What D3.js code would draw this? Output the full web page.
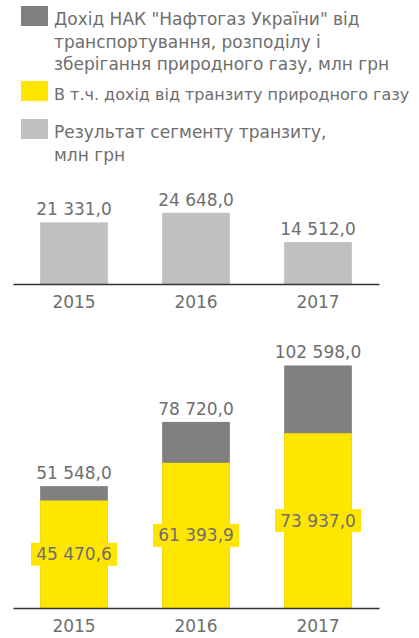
<!DOCTYPE html>
<html>
<head>
<meta charset="utf-8">
<script src="https://cdn.jsdelivr.net/npm/d3@7"></script>
<style>
  body { margin: 0; background: #fff; }
  text { font-family: "DejaVu Sans", sans-serif; fill: #6e6e6e; }
</style>
</head>
<body>
<div id="chart"></div>
<script>
let svgWidth = 419;
let svgHeight = 638;

// data
let years = ["2015", "2016", "2017"];
let transitResult = [21331.0, 24648.0, 14512.0];
let totalIncome = [51548.0, 78720.0, 102598.0];
let transitIncome = [45470.6, 61393.9, 73937.0];

let legendItems = [
  { color: "#808080", size: 17, lines: ["Дохід НАК \"Нафтогаз України\" від", "транспортування, розподілу і", "зберігання природного газу, млн грн"] },
  { color: "#ffe600", size: 16, lines: ["В т.ч. дохід від транзиту природного газу"] },
  { color: "#c0c0c0", size: 17, lines: ["Результат сегменту транзиту,", "млн грн"] }
];
let legendTop = [6, 81, 119];

let fmt = v => d3.format(",.1f")(v).replace(/,/g, " ").replace(".", ",");

let svg = d3.select("#chart")
  .append("svg")
  .attr("width", svgWidth)
  .attr("height", svgHeight);

// legend
legendItems.forEach(function(item, i) {
  let g = svg.append("g").attr("transform", `translate(21, ${legendTop[i]})`);
  g.append("rect")
    .attr("width", 27)
    .attr("height", 20)
    .attr("fill", item.color);
  g.selectAll("text")
    .data(item.lines)
    .enter()
    .append("text")
    .attr("x", 33)
    .attr("y", (d, j) => 19 + j * 22.5)
    .attr("font-size", item.size)
    .text(d => d);
});

let x = d3.scaleBand()
  .domain(years)
  .range([13, 379])
  .paddingInner(0.445)
  .paddingOuter(0.2225);

// top chart: transit segment result
let yTop = d3.scaleLinear()
  .domain([0, 30000])
  .range([284, 284 - 30000 / 346]);

svg.selectAll(".bar-top")
  .data(transitResult)
  .enter()
  .append("rect")
  .attr("class", "bar-top")
  .attr("x", (d, i) => x(years[i]))
  .attr("y", d => yTop(d))
  .attr("width", x.bandwidth())
  .attr("height", d => yTop(0) - yTop(d))
  .attr("fill", "#c0c0c0");

svg.selectAll(".lab-top")
  .data(transitResult)
  .enter()
  .append("text")
  .attr("class", "lab-top")
  .attr("x", (d, i) => x(years[i]) + x.bandwidth() / 2)
  .attr("y", d => yTop(d) - 7)
  .attr("text-anchor", "middle")
  .attr("font-size", 17)
  .text(d => fmt(d));

let topAxis = svg.append("g")
  .attr("transform", `translate(0, ${yTop(0)})`)
  .call(d3.axisBottom(x).tickSize(0).tickPadding(12));
topAxis.select(".domain").attr("stroke", "#333").attr("stroke-width", 1.5);
topAxis.selectAll("text").attr("font-size", 17).attr("font-family", null).style("fill", "#6e6e6e");

// bottom chart: stacked income
let yBot = d3.scaleLinear()
  .domain([0, 110000])
  .range([608, 608 - 110000 / 423]);

svg.selectAll(".bar-total")
  .data(totalIncome)
  .enter()
  .append("rect")
  .attr("class", "bar-total")
  .attr("x", (d, i) => x(years[i]))
  .attr("y", d => yBot(d))
  .attr("width", x.bandwidth())
  .attr("height", d => yBot(0) - yBot(d))
  .attr("fill", "#808080");

svg.selectAll(".bar-transit")
  .data(transitIncome)
  .enter()
  .append("rect")
  .attr("class", "bar-transit")
  .attr("x", (d, i) => x(years[i]))
  .attr("y", d => yBot(d))
  .attr("width", x.bandwidth())
  .attr("height", d => yBot(0) - yBot(d))
  .attr("fill", "#ffe600");

svg.selectAll(".lab-total")
  .data(totalIncome)
  .enter()
  .append("text")
  .attr("class", "lab-total")
  .attr("x", (d, i) => x(years[i]) + x.bandwidth() / 2)
  .attr("y", d => yBot(d) - 7)
  .attr("text-anchor", "middle")
  .attr("font-size", 17)
  .text(d => fmt(d));

// yellow-boxed labels inside transit segment
let inner = svg.selectAll(".lab-transit")
  .data(transitIncome)
  .enter()
  .append("g")
  .attr("class", "lab-transit")
  .attr("transform", (d, i) => `translate(${x(years[i]) + x.bandwidth() / 2}, ${(yBot(d) + yBot(0)) / 2})`);

inner.append("rect")
  .attr("x", -43)
  .attr("y", -11.5)
  .attr("width", 86)
  .attr("height", 23)
  .attr("fill", "#ffe600");

inner.append("text")
  .attr("y", 6)
  .attr("text-anchor", "middle")
  .attr("font-size", 17)
  .text(d => fmt(d));

let botAxis = svg.append("g")
  .attr("transform", `translate(0, ${yBot(0)})`)
  .call(d3.axisBottom(x).tickSize(0).tickPadding(12));
botAxis.select(".domain").attr("stroke", "#333").attr("stroke-width", 1.5);
botAxis.selectAll("text").attr("font-size", 17).attr("font-family", null).style("fill", "#6e6e6e");
</script>
</body>
</html>
